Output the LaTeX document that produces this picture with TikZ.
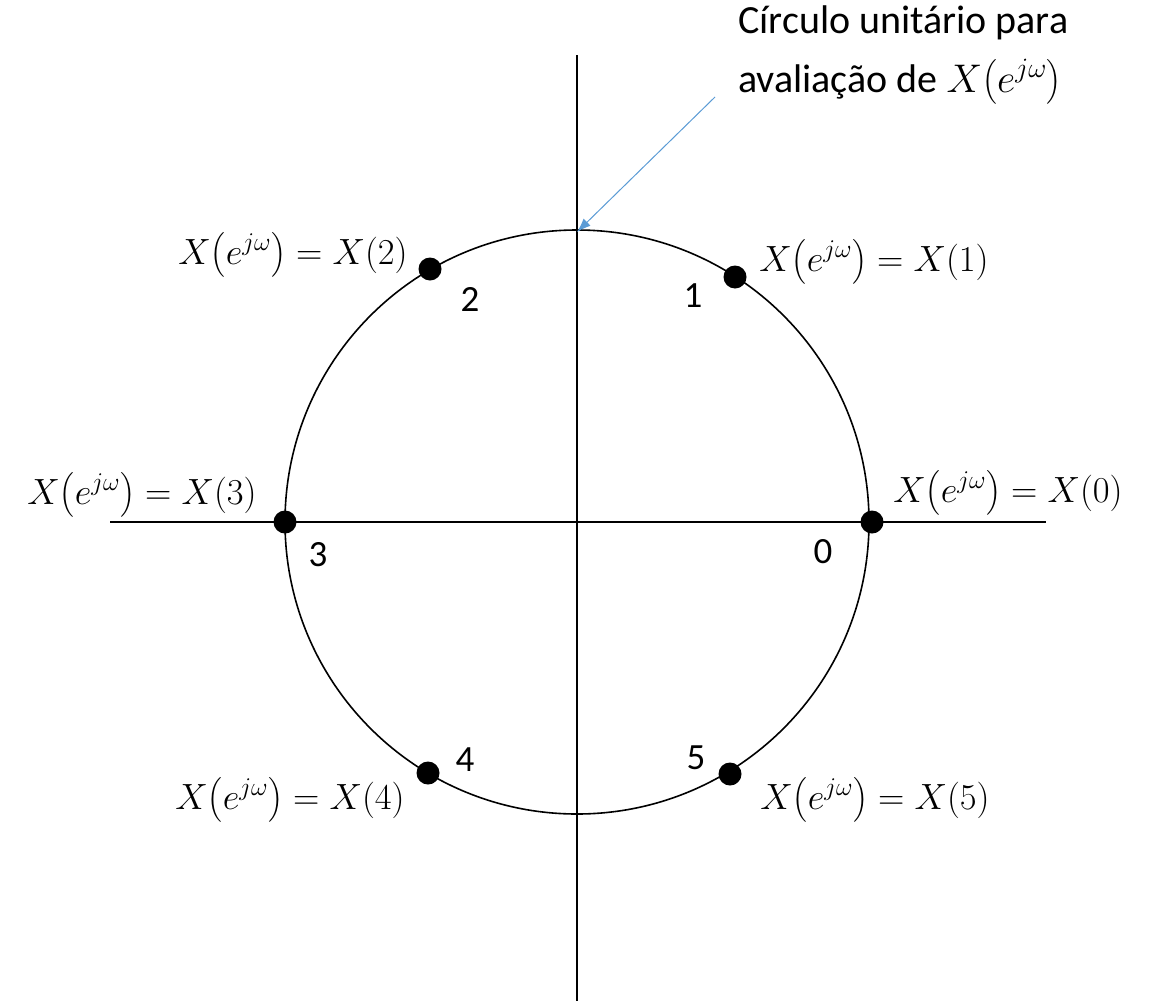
\RequirePackage{fix-cm}
\documentclass[tikz,border=0pt]{standalone}
\usepackage{amsmath}
\usepackage{fontspec}
\usetikzlibrary{arrows.meta}
\setmainfont{Carlito}
\definecolor{arrowblue}{RGB}{91,155,213}
\newcommand{\Xlbl}[1]{$X\bigl(e^{j\omega}\bigr)=X(#1)$}
\begin{document}
\begin{tikzpicture}[x=1pt,y=-1pt,
  eqlabel/.style={inner sep=0pt,font=\fontsize{36.5}{43}\selectfont},
  numlabel/.style={inner sep=0pt,font=\fontsize{37}{44}\selectfont},
  titlelabel/.style={inner sep=0pt,anchor=base west,text height=30pt,text depth=10pt,font=\fontsize{40}{48}\selectfont},
  dot/.style={circle,fill=black,inner sep=0pt,minimum size=23pt},
  axis/.style={line width=1.2pt},
  unitcircle/.style={line width=1.6pt}]
\useasboundingbox (0,0) rectangle (1158,1001);
\coordinate (O) at (577,522);
\coordinate (xl) at (110,522);
\coordinate (xr) at (1046,522);
\coordinate (yt) at (577,55);
\coordinate (yb) at (577,1001);
\draw[axis] (xl) -- (xr);
\draw[axis] (yt) -- (yb);
\draw[unitcircle] (O) circle[radius=292];
\coordinate (top) at (577,232);
% points
\node[dot] (p0) at (872,522) {};
\node[dot] (p1) at (735,277) {};
\node[dot] (p2) at (430,269) {};
\node[dot] (p3) at (285,522) {};
\node[dot] (p4) at (428,773) {};
\node[dot] (p5) at (730,774) {};
% numbers
\node[numlabel] (n0) at (823,552) {0};
\node[numlabel] (n1) at (693,296) {1};
\node[numlabel] (n2) at (470,299) {2};
\node[numlabel] (n3) at (318,555) {3};
\node[numlabel] (n4) at (465,760) {4};
\node[numlabel] (n5) at (696,758) {5};
% equation labels
\node[eqlabel] (e0) at (1008,493) {\Xlbl{0}};
\node[eqlabel] (e1) at (874,262) {\Xlbl{1}};
\node[eqlabel] (e2) at (293,255) {\Xlbl{2}};
\node[eqlabel] (e3) at (142,495) {\Xlbl{3}};
\node[eqlabel] (e4) at (290,800) {\Xlbl{4}};
\node[eqlabel] (e5) at (875,800) {\Xlbl{5}};
% title
\node[titlelabel] (t1) at (738,33) {Círculo unitário para};
\node[titlelabel] (t2) at (738,92) {avaliação de $X\bigl(e^{j\omega}\bigr)$};
\coordinate (astart) at (715,97);
\draw[arrowblue,line width=1pt,-{Latex[length=14pt,width=10pt]}] (astart) -- (top);
\end{tikzpicture}
\end{document}
